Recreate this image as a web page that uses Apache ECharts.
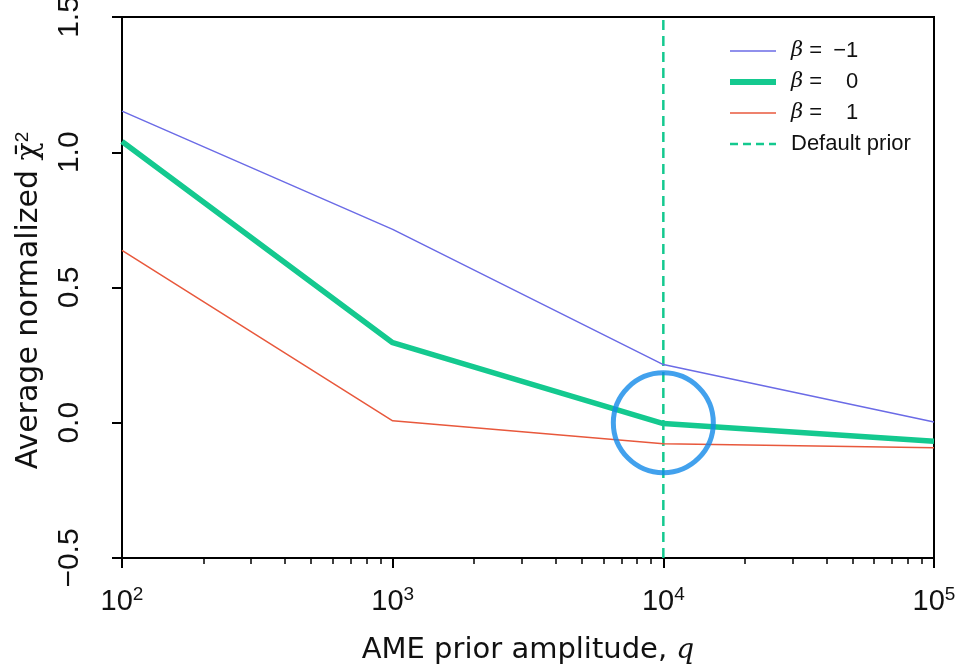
<!DOCTYPE html>
<html>
<head>
<meta charset="utf-8">
<script src="https://cdn.jsdelivr.net/npm/echarts@6/dist/echarts.min.js"></script>
<style>html,body{margin:0;padding:0;background:#fff}#c{width:959px;height:667px}</style>
</head>
<body>
<div id="c"></div>
<script>
// ---- data ----
const qValues = [100, 1000, 10000, 100000];
const betaMinus1 = [1.152, 0.715, 0.215, 0.003];
const beta0 = [1.04, 0.296, -0.003, -0.068];
const beta1 = [0.637, 0.007, -0.078, -0.092];
const betaValues = ['−1', '0', '1'];
const defaultPrior = 10000;
const highlightPoint = [10000, 0.0];
const xMajorTicks = [100, 1000, 10000, 100000];
const xMinorTicks = [200,300,400,500,600,700,800,900,2000,3000,4000,5000,6000,7000,8000,9000,20000,30000,40000,50000,60000,70000,80000,90000];
const yRange = [-0.5, 1.5];

const FONT = 'Liberation Sans';
const NFONT = 'DejaVu Sans';
const pair = (xs, ys) => xs.map((x, i) => [x, ys[i]]);

const chart = echarts.init(document.getElementById('c'), null, {renderer: 'canvas'});
const names = ['β = −1', 'β = 0', 'β = 1', 'Default prior'];
const colors = ['#6b6be6', '#14c98f', '#e8583c', '#14c98f'];
const widths = [1.5, 6, 1.5, 2.5];

chart.setOption({
  animation: false,
  backgroundColor: '#fff',
  grid: {left: 122, right: 25, top: 17, bottom: 109, containLabel: false, outerBoundsMode: 'none', show: true, borderColor: '#000', borderWidth: 2, backgroundColor: 'transparent'},
  legend: {
    data: names.map((n, i) => ({name: n, itemStyle: {opacity: 0}, lineStyle: {color: colors[i], width: widths[i], type: i === 3 ? [8, 5] : 'solid'}})),
    orient: 'vertical',
    left: 722, top: 34,
    itemWidth: 46, itemHeight: 14, itemGap: 7,
    textStyle: {fontFamily: FONT, fontSize: 22, lineHeight: 24, color: '#111', padding: [0, 0, 0, 10],
      rich: {
        i: {fontFamily: 'DejaVu Serif', fontStyle: 'italic', fontSize: 21, lineHeight: 24, color: '#111'},
        t: {fontFamily: FONT, fontSize: 22, lineHeight: 24, color: '#111'},
        n: {fontFamily: FONT, fontSize: 22, lineHeight: 24, color: '#111', width: 30, align: 'right'}
      }},
    formatter: function (name) {
      const idx = names.indexOf(name);
      if (idx < 3) return '{i|β}{t| = }{n|' + betaValues[idx] + '}';
      return name;
    }
  },
  xAxis: [{
    type: 'log', logBase: 10, min: xMajorTicks[0], max: xMajorTicks[xMajorTicks.length - 1],
    name: '{a|AME prior amplitude, }{q|q}', nameLocation: 'middle', nameGap: 78,
    nameTextStyle: {rich: {a: {fontFamily: NFONT, fontSize: 29, color: '#111'}, q: {fontFamily: 'DejaVu Serif', fontStyle: 'italic', fontSize: 28, color: '#111'}}},
    axisLine: {show: true, onZero: false, lineStyle: {color: '#000', width: 2}},
    axisTick: {show: true, inside: false, length: 10, lineStyle: {color: '#000', width: 2}},
    axisLabel: {margin: 27, color: '#111',
      formatter: function (v) { return '{b|10}{s|' + Math.round(Math.log10(v)) + '}'; },
      rich: {b: {fontFamily: FONT, fontSize: 29, color: '#111'}, s: {fontFamily: FONT, fontSize: 19, color: '#111', verticalAlign: 'top', padding: [0, 0, 14, 0]}}},
    splitLine: {show: false}
  }, {
    type: 'log', logBase: 10, min: xMajorTicks[0], max: xMajorTicks[xMajorTicks.length - 1],
    position: 'bottom',
    axisLine: {show: false, onZero: false},
    axisTick: {show: true, inside: false, length: 6, customValues: xMinorTicks, lineStyle: {color: '#000', width: 1.5}},
    axisLabel: {show: false},
    splitLine: {show: false}
  }],
  yAxis: {
    type: 'value', min: yRange[0], max: yRange[1], interval: 0.5,
    name: '{a|Average normalized }{c|χ̄}{s|2}', nameLocation: 'middle', nameGap: 76, nameRotate: 90,
    nameTextStyle: {padding: [0, 26, 0, 0], rich: {a: {fontFamily: NFONT, fontSize: 30, color: '#111'}, c: {fontFamily: 'DejaVu Serif', fontSize: 30, color: '#111'}, s: {fontFamily: FONT, fontSize: 19, color: '#111', verticalAlign: 'top', padding: [0, 0, 14, 0]}}},
    axisLine: {show: true, onZero: false, lineStyle: {color: '#000', width: 2}},
    axisTick: {show: true, inside: false, length: 10, lineStyle: {color: '#000', width: 2}},
    axisLabel: {rotate: 90, margin: 37, fontFamily: FONT, fontSize: 30, color: '#111',
      formatter: function (v) { return (v < 0 ? '−' : '') + Math.abs(v).toFixed(1); }},
    splitLine: {show: false}
  },
  series: [
    {name: names[0], type: 'line', data: pair(qValues, betaMinus1), symbol: 'none', lineStyle: {color: colors[0], width: widths[0]}, itemStyle: {color: colors[0]}, z: 3},
    {name: names[1], type: 'line', data: pair(qValues, beta0), symbol: 'none', lineStyle: {color: colors[1], width: 5.5}, itemStyle: {color: colors[1]}, z: 4},
    {name: names[2], type: 'line', data: pair(qValues, beta1), symbol: 'none', lineStyle: {color: colors[2], width: widths[2]}, itemStyle: {color: colors[2]}, z: 3},
    {name: names[3], type: 'line', data: [[defaultPrior, yRange[0]], [defaultPrior, yRange[1]]], symbol: 'none', lineStyle: {color: colors[3], width: widths[3], type: [10, 6]}, itemStyle: {color: colors[3]}, z: 2},
    {name: 'highlight', type: 'scatter', data: [highlightPoint], symbol: 'circle', symbolSize: 100,
      itemStyle: {color: 'rgba(0,0,0,0)', borderColor: '#138ae8', borderWidth: 5}, z: 5, silent: true}
  ]
});
</script>
</body>
</html>
